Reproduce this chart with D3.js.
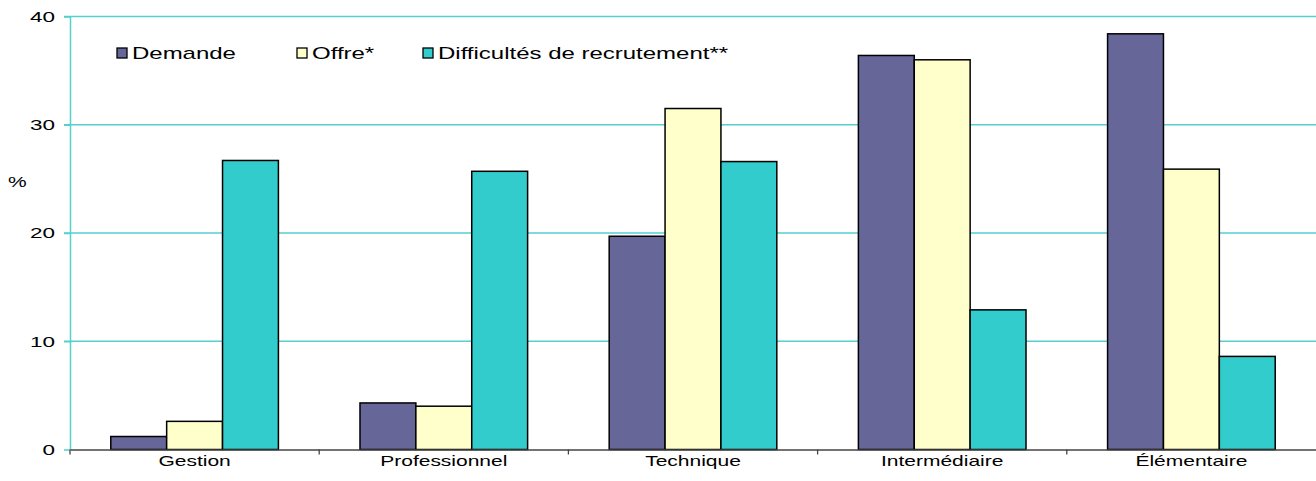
<!DOCTYPE html>
<html>
<head>
<meta charset="utf-8">
<script src="https://cdn.jsdelivr.net/npm/d3@7"></script>
<style>
  body { margin: 0; background: #fff; }
  svg { display: block; font-family: "Liberation Sans", Arial, sans-serif; }
</style>
</head>
<body>
<div id="chart"></div>
<script>
const categories = ["Gestion", "Professionnel", "Technique", "Intermédiaire", "Élémentaire"];
const seriesNames = ["Demande", "Offre*", "Difficultés de recrutement**"];
const demande = [1.2, 4.3, 19.7, 36.4, 38.4];
const offre = [2.6, 4.0, 31.5, 36.0, 25.9];
const difficultes = [26.7, 25.7, 26.6, 12.9, 8.6];
const yTicks = [0, 10, 20, 30, 40];
const colors = ["#666699", "#FFFFCC", "#33CCCC"];

const W = 1316, H = 481;
const margin = { top: 16.5, right: 0, bottom: 31.5, left: 70 };
const SX = 1.5; // text looks stretched horizontally in the original
const gridColor = "#55cfcf";

const svg = d3.select("#chart").append("svg")
    .attr("width", W)
    .attr("height", H);

const x0 = d3.scaleBand()
    .domain(categories)
    .range([margin.left, W - margin.right])
    .paddingInner(0)
    .paddingOuter(0);

const x1 = d3.scaleBand()
    .domain(seriesNames)
    .range([0, x0.bandwidth()])
    .paddingInner(0)
    .paddingOuter(0.73);

const y = d3.scaleLinear()
    .domain([0, 40])
    .range([H - margin.bottom, margin.top]);

const rows = categories.map((c, i) => ({
    cat: c,
    values: [demande[i], offre[i], difficultes[i]]
}));

// gridlines
svg.append("g")
    .selectAll("line")
    .data(yTicks.filter(d => d > 0))
    .enter().append("line")
    .attr("x1", margin.left - 6)
    .attr("x2", W - margin.right)
    .attr("y1", d => y(d))
    .attr("y2", d => y(d))
    .attr("stroke", gridColor)
    .attr("stroke-width", 1.5);

// y axis
const yAxis = svg.append("g")
    .attr("transform", `translate(${margin.left},0)`)
    .call(d3.axisLeft(y).tickValues(yTicks).tickSize(6).tickPadding(10).tickSizeOuter(0));
yAxis.select(".domain").attr("stroke", gridColor).attr("stroke-width", 1.5);
yAxis.selectAll(".tick line").attr("stroke", gridColor).attr("stroke-width", 1.5);
yAxis.selectAll(".tick text")
    .attr("x", -15 / SX)
    .attr("transform", `scale(${SX},1)`)
    .style("font-size", "15px")
    .attr("fill", "#000");
yAxis.attr("font-family", null);

svg.append("text")
    .attr("transform", `translate(8,${y(24.7)}) scale(${SX},1)`)
    .attr("dy", "0.35em")
    .style("font-size", "14px")
    .text("%");

// bars
const groups = svg.append("g")
    .selectAll("g")
    .data(rows)
    .enter().append("g")
    .attr("transform", d => `translate(${x0(d.cat)},0)`);

groups.selectAll("rect")
    .data(d => d.values.map((v, i) => ({ key: seriesNames[i], value: v, i })))
    .enter().append("rect")
    .attr("x", d => x1(d.key))
    .attr("y", d => y(d.value))
    .attr("width", x1.bandwidth())
    .attr("height", d => y(0) - y(d.value))
    .attr("fill", d => colors[d.i])
    .attr("stroke", "#000")
    .attr("stroke-width", 1.5);

// x axis
const xAxis = svg.append("g")
    .attr("transform", `translate(0,${y(0)})`)
    .call(d3.axisBottom(x0).tickSize(0).tickPadding(7).tickSizeOuter(0));
xAxis.select(".domain").attr("stroke", "#444").attr("stroke-width", 1.3);
xAxis.selectAll(".tick text")
    .attr("transform", `scale(${SX},1)`)
    .style("font-size", "14px")
    .attr("fill", "#000");
xAxis.attr("font-family", null);

// boundary ticks between categories
const bounds = categories.map(c => x0(c));
svg.append("g")
    .selectAll("line")
    .data(bounds)
    .enter().append("line")
    .attr("x1", d => d)
    .attr("x2", d => d)
    .attr("y1", y(0))
    .attr("y2", y(0) + 5)
    .attr("stroke", "#444")
    .attr("stroke-width", 1.3);

// legend
const legendX = [117, 297, 423];
const legend = svg.append("g")
    .selectAll("g")
    .data(seriesNames)
    .enter().append("g")
    .attr("transform", (d, i) => `translate(${legendX[i]},48)`);

legend.append("rect")
    .attr("width", 10)
    .attr("height", 10)
    .attr("fill", (d, i) => colors[i])
    .attr("stroke", "#000")
    .attr("stroke-width", 1.3);

legend.append("text")
    .attr("transform", `translate(15,11) scale(${SX},1)`)
    .style("font-size", "16px")
    .text(d => d);
</script>
</body>
</html>
